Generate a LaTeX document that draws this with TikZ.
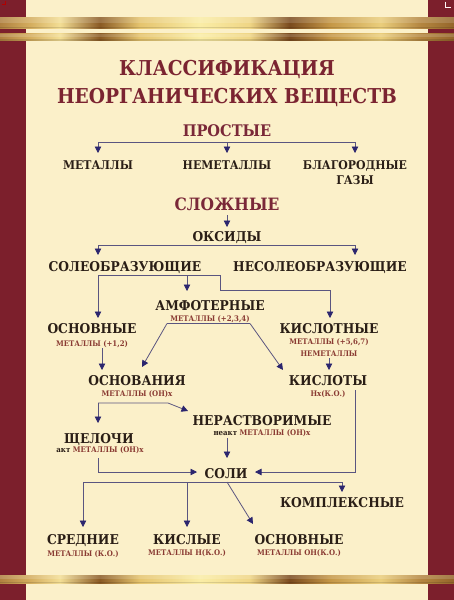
\documentclass[tikz,border=0pt]{standalone}
\usepackage{fontspec}
\setmainfont{DejaVu Serif}[FakeStretch=0.91]
\usetikzlibrary{arrows.meta}
\definecolor{bg}{HTML}{FBF0C9}
\definecolor{maroon}{HTML}{7C1F2C}
\definecolor{titlec}{HTML}{7B2431}
\definecolor{headc}{HTML}{7A2838}
\definecolor{ink}{HTML}{2A1E16}
\definecolor{subc}{HTML}{8A3B33}
\definecolor{linec}{HTML}{5A5580}
\definecolor{arrc}{HTML}{2B256E}
\definecolor{g0}{HTML}{B08040}
\definecolor{g1}{HTML}{D4AD5E}
\definecolor{g2}{HTML}{F3DE95}
\definecolor{g3}{HTML}{8A5A24}
\definecolor{g4}{HTML}{E5C46E}
\definecolor{g5}{HTML}{FAEDA6}
\definecolor{g6}{HTML}{EFD585}
\definecolor{g7}{HTML}{7A4A1E}
\definecolor{g8}{HTML}{C49646}
\definecolor{g9}{HTML}{EACE7C}
\definecolor{g10}{HTML}{B48640}
\definecolor{g11}{HTML}{94652A}
\pgfdeclarehorizontalshading{goldbar}{100bp}{color(0bp)=(g0); color(25bp)=(g0); color(28.3bp)=(g1); color(31.6bp)=(g2); color(36bp)=(g3); color(40.4bp)=(g4); color(47bp)=(g5); color(52.5bp)=(g6); color(56.9bp)=(g7); color(61.3bp)=(g8); color(66.9bp)=(g9); color(71.3bp)=(g10); color(75bp)=(g11); color(100bp)=(g11)}
\tikzset{
  ttl/.style={font=\bfseries\fontsize{20.5}{22}\selectfont, text=titlec, inner sep=0pt, anchor=base},
  hd/.style={font=\bfseries\fontsize{16}{17}\selectfont, text=headc, inner sep=0pt, anchor=base},
  lbl/.style={font=\bfseries\fontsize{13.5}{14}\selectfont, text=ink, inner sep=0pt, anchor=base},
  lblS/.style={font=\bfseries\fontsize{12}{13}\selectfont, text=ink, inner sep=0pt, anchor=base},
  sub/.style={font=\bfseries\fontsize{7.7}{8}\selectfont, text=subc, inner sep=0pt, anchor=base},
  conn/.style={draw=linec, line width=0.8pt},
  arr/.style={conn, -{Triangle[width=6.5pt,length=6.5pt,color=arrc,fill=arrc]}},
}
\begin{document}
\begin{tikzpicture}[x=1pt,y=-1pt]
\useasboundingbox (0,0) rectangle (454,600);
\fill[bg] (0,0) rectangle (454,600);
\fill[maroon] (0,0) rectangle (26,600);
\fill[maroon] (428,0) rectangle (454,600);
\foreach \a/\b in {17/28, 33.5/40.5, 575/583}{
  \shade[shading=goldbar] (0,\a) rectangle (454,\b);
  \fill[white,opacity=0.15] (0,\a) rectangle (454,{(\a+\b)/2});
  \fill[black,opacity=0.12] (0,{\b-1.5}) rectangle (454,\b);
}
% crop marks
\draw[red!70!black,line width=0.5pt] (1.7,4) -- (5,4) -- (5,1);
\draw[white!85!pink,line width=0.6pt] (445.7,1.7) -- (445.7,7.3) -- (450.7,7.3);
% title
\node[ttl] (tit1) at (227,75) {КЛАССИФИКАЦИЯ};
\node[ttl] (tit2) at (227,103) {НЕОРГАНИЧЕСКИХ ВЕЩЕСТВ};
% simple
\node[hd] (prost) at (227,136) {ПРОСТЫЕ};
\draw[conn] (98,142) -- (355,142);
\draw[arr] (98,142) -- (98,153);
\draw[arr] (227,142) -- (227,153);
\draw[arr] (355,142) -- (355,153);
\node[lblS] (met) at (98,169) {МЕТАЛЛЫ};
\node[lblS] (nemet) at (227,169) {НЕМЕТАЛЛЫ};
\node[lblS] (blag1) at (355,169) {БЛАГОРОДНЫЕ};
\node[lblS] (blag2) at (355,184) {ГАЗЫ};
% complex
\node[hd,font=\bfseries\fontsize{17}{18}\selectfont] (slozh) at (227,210) {СЛОЖНЫЕ};
\draw[arr] (227,215) -- (227,227);
\node[lbl] (oks) at (227,241) {ОКСИДЫ};
\draw[conn] (98,245) -- (355,245);
\draw[arr] (98,245) -- (98,255);
\draw[arr] (355,245) -- (355,255);
\node[lbl] (soleo) at (125,271) {СОЛЕОБРАЗУЮЩИЕ};
\node[lbl] (nesoleo) at (320,271) {НЕСОЛЕОБРАЗУЮЩИЕ};
\draw[conn] (98,275) -- (220,275);
\draw[arr] (98,275) -- (98,318);
\draw[arr] (187,275) -- (187,291);
\draw[arr] (220,275) -- (220,290) -- (330,290) -- (330,318);
\node[lbl] (amf) at (210,310) {АМФОТЕРНЫЕ};
\node[sub] (amfs) at (210,321) {МЕТАЛЛЫ (+2,3,4)};
\node[lbl] (osn) at (92,333) {ОСНОВНЫЕ};
\node[sub] (osns) at (92,346) {МЕТАЛЛЫ (+1,2)};
\node[lbl] (kisl) at (329,333) {КИСЛОТНЫЕ};
\node[sub] (kisls1) at (329,344) {МЕТАЛЛЫ (+5,6,7)};
\node[sub] (kisls2) at (329,356) {НЕМЕТАЛЛЫ};
\draw[conn] (167,323.5) -- (250,323.5);
\draw[arr] (167,323.5) -- (142,367);
\draw[arr] (250,323.5) -- (283,370);
\draw[arr] (102,348) -- (102,370);
\draw[arr] (329,358) -- (329,370);
\node[lbl] (osnov) at (137,385) {ОСНОВАНИЯ};
\node[sub] (osnovs) at (137,396) {МЕТАЛЛЫ (ОН)x};
\node[lbl] (kislo) at (328,385) {КИСЛОТЫ};
\node[sub] (kislos) at (328,396) {Нx(К.О.)};
\draw[arr] (98,403) -- (98,423);
\draw[arr] (98,403) -- (168,403) -- (188,411);
\node[lbl] (neras) at (262,425) {НЕРАСТВОРИМЫЕ};
\node[sub] (nerass) at (262,435) {\textcolor{ink}{неакт} МЕТАЛЛЫ (ОН)x};
\node[lbl] (shch) at (99,443) {ЩЕЛОЧИ};
\node[sub] (shchs) at (100,452.5) {\textcolor{ink}{акт} МЕТАЛЛЫ (ОН)x};
\draw[arr] (227,438) -- (227,458);
\node[lbl] (soli) at (226,478) {СОЛИ};
\draw[arr] (98,458) -- (98,472) -- (197,472);
\draw[arr] (355,390) -- (355,472) -- (255,472);
\draw[conn] (83,482) -- (342,482);
\draw[arr] (83,482) -- (83,527);
\draw[arr] (187,482) -- (187,527);
\draw[arr] (342,482) -- (342,492);
\draw[arr] (227,482) -- (253,524);
\node[lbl] (kompl) at (342,507) {КОМПЛЕКСНЫЕ};
\node[lbl] (sred) at (83,544) {СРЕДНИЕ};
\node[sub] (sreds) at (83,556) {МЕТАЛЛЫ (К.О.)};
\node[lbl] (kisly) at (187,544) {КИСЛЫЕ};
\node[sub] (kislys) at (187,555) {МЕТАЛЛЫ Н(К.О.)};
\node[lbl] (osnv) at (299,544) {ОСНОВНЫЕ};
\node[sub] (osnvs) at (299,555) {МЕТАЛЛЫ ОН(К.О.)};
\end{tikzpicture}
\end{document}
